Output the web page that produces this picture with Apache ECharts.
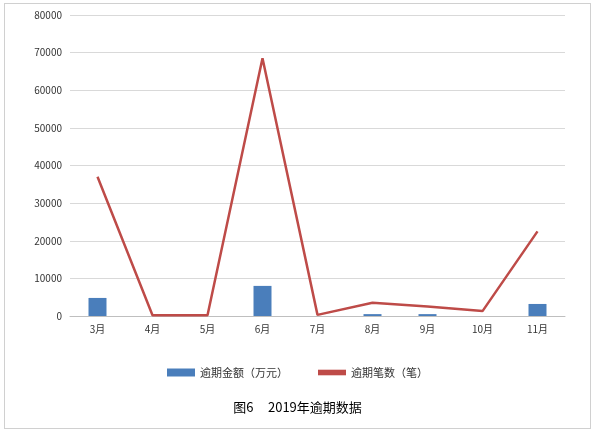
<!DOCTYPE html>
<html><head><meta charset="utf-8">
<script src="https://cdn.jsdelivr.net/npm/echarts@6/dist/echarts.min.js"></script>
<style>html,body{margin:0;padding:0;background:#fff}#c{width:595px;height:433px}
#f{position:absolute;left:4px;top:3px;width:585px;height:424px;border:1px solid #d0d0d0;pointer-events:none}</style>
</head><body><div id="c"></div><div id="f"></div>
<script>
const categories=['3月','4月','5月','6月','7月','8月','9月','10月','11月'];
const amount=[4800,0,0,8000,0,500,500,0,3200];
const count=[37000,200,200,68500,300,3500,2500,1300,22500];
const ch=echarts.init(document.getElementById('c'));
const font='"Noto Sans CJK SC", sans-serif';
ch.setOption({
 animation:false,
 textStyle:{fontFamily:font},
 grid:{left:70,right:30,top:15,bottom:117},
 title:{text:'图6     2019年逾期数据',left:'center',top:396,textStyle:{fontSize:13,fontWeight:'normal',color:'#000',fontFamily:font}},
 legend:{top:362,left:'center',itemGap:30,itemWidth:28,itemHeight:8,textStyle:{fontSize:11,color:'#333'},
  data:[{name:'逾期金额（万元）',icon:'rect'},{name:'逾期笔数（笔）',icon:'path://M0,0H10V2H0Z'}]},
 xAxis:{type:'category',data:categories,axisTick:{show:false},axisLine:{lineStyle:{color:'#bfbfbf'}},axisLabel:{color:'#333',fontSize:10}},
 yAxis:{type:'value',min:0,max:80000,interval:10000,axisLabel:{color:'#333',fontSize:10,formatter:v=>String(v)},splitLine:{lineStyle:{color:'#d9d9d9'}}},
 series:[
  {name:'逾期金额（万元）',type:'bar',data:amount,barWidth:18,itemStyle:{color:'#4a7ebb'}},
  {name:'逾期笔数（笔）',type:'line',data:count,symbol:'none',lineStyle:{color:'#be4b48',width:2.5},itemStyle:{color:'#be4b48'}}
 ]
});
</script></body></html>
